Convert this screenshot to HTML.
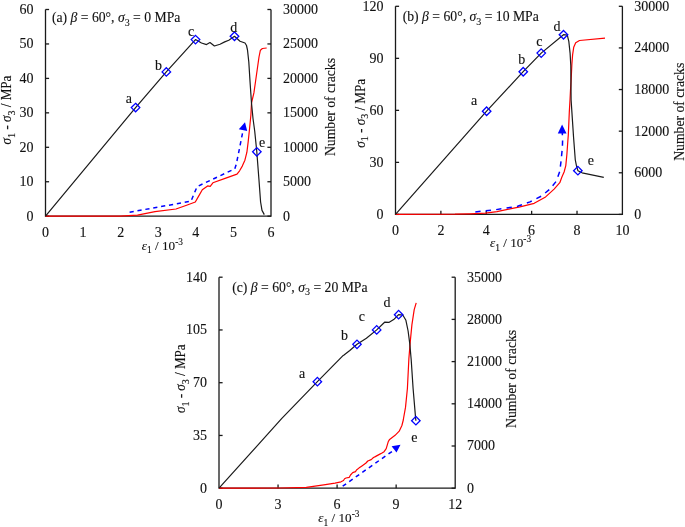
<!DOCTYPE html>
<html><head><meta charset="utf-8"><style>
html,body{margin:0;padding:0;background:#fff;}
svg{display:block;will-change:transform;}
text{font-family:"Liberation Serif",serif;font-size:14px;fill:#111;stroke:#111;stroke-width:0.12px;}
.ax{fill:none;stroke:#1a1a1a;stroke-width:1.3;}
.bk{fill:none;stroke:#1a1a1a;stroke-width:1.2;stroke-linejoin:round;}
.rd{fill:none;stroke:#ff0000;stroke-width:1.2;stroke-linejoin:round;}
.bl{fill:none;stroke:#0000ff;stroke-width:1.5;}
.ar{fill:#0000ff;stroke:none;}
.mk{fill:none;stroke:#0000ff;stroke-width:1.3;}
</style></head><body>
<svg width="685" height="527" viewBox="0 0 685 527">
<path d="M45.5,9.5 V216.2 H271 V9.5" class="ax"/>
<path d="M45.5,216.20 h3.6" class="ax"/>
<text x="33.6" y="220.5" text-anchor="end">0</text>
<path d="M45.5,181.75 h3.6" class="ax"/>
<text x="33.6" y="186.1" text-anchor="end">10</text>
<path d="M45.5,147.30 h3.6" class="ax"/>
<text x="33.6" y="151.6" text-anchor="end">20</text>
<path d="M45.5,112.85 h3.6" class="ax"/>
<text x="33.6" y="117.2" text-anchor="end">30</text>
<path d="M45.5,78.40 h3.6" class="ax"/>
<text x="33.6" y="82.7" text-anchor="end">40</text>
<path d="M45.5,43.95 h3.6" class="ax"/>
<text x="33.6" y="48.2" text-anchor="end">50</text>
<path d="M45.5,9.50 h3.6" class="ax"/>
<text x="33.6" y="13.8" text-anchor="end">60</text>
<path d="M271,216.20 h-3.6" class="ax"/>
<text x="282.9" y="220.5" text-anchor="start">0</text>
<path d="M271,181.75 h-3.6" class="ax"/>
<text x="282.9" y="186.1" text-anchor="start">5000</text>
<path d="M271,147.30 h-3.6" class="ax"/>
<text x="282.9" y="151.6" text-anchor="start">10000</text>
<path d="M271,112.85 h-3.6" class="ax"/>
<text x="282.9" y="117.2" text-anchor="start">15000</text>
<path d="M271,78.40 h-3.6" class="ax"/>
<text x="282.9" y="82.7" text-anchor="start">20000</text>
<path d="M271,43.95 h-3.6" class="ax"/>
<text x="282.9" y="48.2" text-anchor="start">25000</text>
<path d="M271,9.50 h-3.6" class="ax"/>
<text x="282.9" y="13.8" text-anchor="start">30000</text>
<text x="45.5" y="237.2" text-anchor="middle">0</text>
<text x="83.1" y="237.2" text-anchor="middle">1</text>
<text x="120.7" y="237.2" text-anchor="middle">2</text>
<text x="158.2" y="237.2" text-anchor="middle">3</text>
<text x="195.8" y="237.2" text-anchor="middle">4</text>
<text x="233.4" y="237.2" text-anchor="middle">5</text>
<text x="271.0" y="237.2" text-anchor="middle">6</text>
<polyline points="45.5,216.2 120.0,216.2 137.5,215.2 155.0,211.7 176.0,209.0 186.6,205.2 195.3,202.0 198.8,195.9 202.3,189.8 207.6,185.9 210.2,186.3 212.9,182.8 225.1,178.4 237.0,174.1 239.6,170.8 242.3,166.1 244.9,160.2 246.9,152.2 248.2,141.6 249.6,128.3 250.9,115.0 251.5,103.0 253.9,92.9 255.6,81.0 257.3,69.0 259.0,57.0 260.4,50.2 262.4,48.5 266.7,48.0" class="rd"/>
<polyline points="129.6,212.2 191.0,201.2 197.1,186.6 234.8,168.8 236.3,164.1 239.0,150.9 242.3,134.3 243.0,130.0" class="bl" stroke-dasharray="4.2,3.8"/>
<polygon points="245.0,122.3 238.8,129.2 247.2,131.0" class="ar"/>
<polyline points="45.5,216.2 135.6,107.6 166.3,71.9 195.5,39.6 201.5,43.0 206.5,44.6 210.0,42.5 214.4,46.0 220.0,44.3 224.7,41.9 228.8,40.2 234.5,36.3 240.0,41.2 245.0,43.0 246.5,45.5 247.5,50.0 248.8,62.0 250.1,82.7 251.5,103.0 253.0,118.5 254.7,131.0 256.8,151.8 258.9,179.0 260.6,202.0 262.0,210.4 264.3,214.6" class="bk"/>
<path d="M135.6,103.3 L139.8,107.6 L135.6,111.8 L131.3,107.6 Z" class="mk"/>
<path d="M166.3,67.7 L170.6,71.9 L166.3,76.2 L162.1,71.9 Z" class="mk"/>
<path d="M195.5,35.4 L199.8,39.6 L195.5,43.9 L191.2,39.6 Z" class="mk"/>
<path d="M234.5,32.0 L238.8,36.3 L234.5,40.5 L230.2,36.3 Z" class="mk"/>
<path d="M256.8,147.6 L261.1,151.8 L256.8,156.1 L252.6,151.8 Z" class="mk"/>
<text x="128.8" y="103.1" text-anchor="middle">a</text>
<text x="158.6" y="69.8" text-anchor="middle">b</text>
<text x="191.2" y="36.4" text-anchor="middle">c</text>
<text x="233.8" y="32.4" text-anchor="middle">d</text>
<text x="262.1" y="147.1" text-anchor="middle">e</text>
<text x="51.9" y="22.4" style="font-size:13.7px">(a) <tspan font-style="italic">β</tspan> = 60°, <tspan font-style="italic">σ</tspan><tspan font-size="10" dy="3.3">3</tspan><tspan dy="-3.3"> = 0 MPa</tspan></text>
<text transform="translate(11,110) rotate(-90) scale(1,1.1)" text-anchor="middle" style="font-size:13.1px"><tspan font-style="italic">σ</tspan><tspan font-size="10" dy="3.3">1</tspan><tspan dy="-3.3"> - </tspan><tspan font-style="italic">σ</tspan><tspan font-size="10" dy="3.3">3</tspan><tspan dy="-3.3"> / MPa</tspan></text>
<text transform="translate(334.9,107) rotate(-90) scale(1,1.08)" text-anchor="middle" style="font-size:13.7px">Number of cracks</text>
<text x="162.4" y="249.8" text-anchor="middle" style="font-size:13.2px"><tspan font-style="italic">ε</tspan><tspan font-size="9.5" dy="3.3">1</tspan><tspan dy="-3.3"> / 10</tspan><tspan font-size="9.3" dy="-5.2">-3</tspan></text>
<path d="M395.5,6.3 V214.4 H622.4 V6.3" class="ax"/>
<path d="M395.5,214.40 h3.6" class="ax"/>
<text x="383.6" y="218.7" text-anchor="end">0</text>
<path d="M395.5,162.38 h3.6" class="ax"/>
<text x="383.6" y="166.7" text-anchor="end">30</text>
<path d="M395.5,110.35 h3.6" class="ax"/>
<text x="383.6" y="114.7" text-anchor="end">60</text>
<path d="M395.5,58.33 h3.6" class="ax"/>
<text x="383.6" y="62.6" text-anchor="end">90</text>
<path d="M395.5,6.30 h3.6" class="ax"/>
<text x="383.6" y="10.6" text-anchor="end">120</text>
<path d="M622.4,214.40 h-3.6" class="ax"/>
<text x="634.3" y="218.7" text-anchor="start">0</text>
<path d="M622.4,172.78 h-3.6" class="ax"/>
<text x="634.3" y="177.1" text-anchor="start">6000</text>
<path d="M622.4,131.16 h-3.6" class="ax"/>
<text x="634.3" y="135.5" text-anchor="start">12000</text>
<path d="M622.4,89.54 h-3.6" class="ax"/>
<text x="634.3" y="93.8" text-anchor="start">18000</text>
<path d="M622.4,47.92 h-3.6" class="ax"/>
<text x="634.3" y="52.2" text-anchor="start">24000</text>
<path d="M622.4,6.30 h-3.6" class="ax"/>
<text x="634.3" y="10.6" text-anchor="start">30000</text>
<text x="395.5" y="235.4" text-anchor="middle">0</text>
<path d="M440.88,214.4 v-3.6" class="ax"/>
<text x="440.9" y="235.4" text-anchor="middle">2</text>
<path d="M486.26,214.4 v-3.6" class="ax"/>
<text x="486.3" y="235.4" text-anchor="middle">4</text>
<path d="M531.64,214.4 v-3.6" class="ax"/>
<text x="531.6" y="235.4" text-anchor="middle">6</text>
<path d="M577.02,214.4 v-3.6" class="ax"/>
<text x="577.0" y="235.4" text-anchor="middle">8</text>
<text x="622.4" y="235.4" text-anchor="middle">10</text>
<polyline points="395.5,214.4 455.0,214.2 470.0,213.8 485.5,213.1 497.0,211.6 510.0,208.9 520.0,206.8 534.2,203.3 545.6,196.9 554.1,189.1 559.8,182.7 561.9,177.0 564.1,172.0 565.8,165.6 566.9,154.2 567.6,144.3 568.3,135.0 569.3,112.1 570.0,100.0 570.5,90.0 571.1,80.7 571.9,64.0 572.6,54.9 573.7,47.3 575.7,42.8 579.5,40.5 605.0,38.2" class="rd"/>
<polyline points="475.3,211.9 495.7,209.7 517.6,206.3 530.0,201.9 541.3,196.2 549.9,189.1 556.3,181.2 559.8,171.3 561.2,159.9 562.4,147.1 562.6,140.0 562.3,133.0" class="bl" stroke-dasharray="5.3,5.2"/>
<polygon points="562.1,124.4 557.8,133.6 566.5,133.6" class="ar"/>
<polyline points="395.5,214.4 486.6,111.2 523.2,71.7 541.2,53.1 563.5,34.7 567.3,35.2 568.8,41.3 570.1,53.4 570.8,65.5 571.1,100.0 571.9,112.1 573.6,137.7 575.3,160.0 576.5,165.9 577.9,170.7 582.1,172.8 603.8,177.4" class="bk"/>
<path d="M486.6,107.0 L490.9,111.2 L486.6,115.5 L482.4,111.2 Z" class="mk"/>
<path d="M523.2,67.5 L527.5,71.7 L523.2,76.0 L519.0,71.7 Z" class="mk"/>
<path d="M541.2,48.9 L545.5,53.1 L541.2,57.4 L537.0,53.1 Z" class="mk"/>
<path d="M563.5,30.5 L567.8,34.7 L563.5,39.0 L559.2,34.7 Z" class="mk"/>
<path d="M577.9,166.4 L582.1,170.7 L577.9,174.9 L573.6,170.7 Z" class="mk"/>
<text x="474.2" y="105.1" text-anchor="middle">a</text>
<text x="521.7" y="63.9" text-anchor="middle">b</text>
<text x="539.3" y="45.9" text-anchor="middle">c</text>
<text x="557.0" y="30.9" text-anchor="middle">d</text>
<text x="590.8" y="165.1" text-anchor="middle">e</text>
<text x="402.7" y="21.3" style="font-size:13.7px">(b) <tspan font-style="italic">β</tspan> = 60°, <tspan font-style="italic">σ</tspan><tspan font-size="10" dy="3.3">3</tspan><tspan dy="-3.3"> = 10 MPa</tspan></text>
<text transform="translate(364.6,113.3) rotate(-90) scale(1,1.1)" text-anchor="middle" style="font-size:13.1px"><tspan font-style="italic">σ</tspan><tspan font-size="10" dy="3.3">1</tspan><tspan dy="-3.3"> - </tspan><tspan font-style="italic">σ</tspan><tspan font-size="10" dy="3.3">3</tspan><tspan dy="-3.3"> / MPa</tspan></text>
<text transform="translate(683.7,111.8) rotate(-90) scale(1,1.08)" text-anchor="middle" style="font-size:13.7px">Number of cracks</text>
<text x="510.5" y="247.2" text-anchor="middle" style="font-size:13.2px"><tspan font-style="italic">ε</tspan><tspan font-size="9.5" dy="3.3">1</tspan><tspan dy="-3.3"> / 10</tspan><tspan font-size="9.3" dy="-5.2">-3</tspan></text>
<path d="M219,277.2 V488.2 H455.2 V277.2" class="ax"/>
<path d="M219,488.20 h3.6" class="ax"/>
<text x="207.1" y="492.5" text-anchor="end">0</text>
<path d="M219,435.45 h3.6" class="ax"/>
<text x="207.1" y="439.8" text-anchor="end">35</text>
<path d="M219,382.70 h3.6" class="ax"/>
<text x="207.1" y="387.0" text-anchor="end">70</text>
<path d="M219,329.95 h3.6" class="ax"/>
<text x="207.1" y="334.2" text-anchor="end">105</text>
<path d="M219,277.20 h3.6" class="ax"/>
<text x="207.1" y="281.5" text-anchor="end">140</text>
<path d="M455.2,488.20 h-3.6" class="ax"/>
<text x="467.1" y="492.5" text-anchor="start">0</text>
<path d="M455.2,446.00 h-3.6" class="ax"/>
<text x="467.1" y="450.3" text-anchor="start">7000</text>
<path d="M455.2,403.80 h-3.6" class="ax"/>
<text x="467.1" y="408.1" text-anchor="start">14000</text>
<path d="M455.2,361.60 h-3.6" class="ax"/>
<text x="467.1" y="365.9" text-anchor="start">21000</text>
<path d="M455.2,319.40 h-3.6" class="ax"/>
<text x="467.1" y="323.7" text-anchor="start">28000</text>
<path d="M455.2,277.20 h-3.6" class="ax"/>
<text x="467.1" y="281.5" text-anchor="start">35000</text>
<text x="219.0" y="509.2" text-anchor="middle">0</text>
<path d="M278.05,488.2 v-3.6" class="ax"/>
<text x="278.1" y="509.2" text-anchor="middle">3</text>
<path d="M337.10,488.2 v-3.6" class="ax"/>
<text x="337.1" y="509.2" text-anchor="middle">6</text>
<path d="M396.15,488.2 v-3.6" class="ax"/>
<text x="396.1" y="509.2" text-anchor="middle">9</text>
<text x="455.2" y="509.2" text-anchor="middle">12</text>
<polyline points="219.0,488.2 280.0,488.0 306.3,487.4 323.8,484.8 335.0,483.1 341.0,481.8 343.5,480.5 344.6,478.7 346.0,478.0 349.3,477.3 350.5,475.0 352.7,472.6 355.5,471.6 356.5,470.0 358.9,468.1 362.3,465.7 366.0,463.0 367.8,461.0 371.2,459.6 373.5,457.5 375.3,456.6 379.4,454.4 382.0,453.0 384.1,451.7 386.2,448.7 388.2,441.8 389.6,439.4 395.1,435.3 399.2,431.2 401.9,425.5 403.3,420.0 403.6,418.0 405.5,407.4 407.4,388.5 408.9,358.3 410.4,340.1 411.9,324.9 414.2,309.7 416.2,302.9" class="rd"/>
<polyline points="342.7,486.2 393.1,450.7" class="bl" stroke-dasharray="4.2,3.8"/>
<polygon points="400.5,444.8 391.6,446.3 396.5,452.6" class="ar"/>
<polyline points="219.0,488.2 281.6,418.7 317.4,381.7 343.0,355.6 343.7,355.3 349.8,350.5 357.0,344.3 366.4,338.3 376.7,329.9 384.6,322.2 389.2,322.3 393.7,319.6 398.6,314.7 402.8,315.0 405.9,320.3 408.1,331.0 409.7,343.1 411.2,359.8 413.1,388.5 415.5,416.9 415.9,420.7" class="bk"/>
<path d="M317.4,377.4 L321.6,381.7 L317.4,385.9 L313.1,381.7 Z" class="mk"/>
<path d="M357.0,340.1 L361.2,344.3 L357.0,348.6 L352.8,344.3 Z" class="mk"/>
<path d="M376.7,325.6 L380.9,329.9 L376.7,334.1 L372.4,329.9 Z" class="mk"/>
<path d="M398.6,310.4 L402.9,314.7 L398.6,318.9 L394.4,314.7 Z" class="mk"/>
<path d="M415.9,416.4 L420.1,420.7 L415.9,424.9 L411.6,420.7 Z" class="mk"/>
<text x="302.0" y="377.5" text-anchor="middle">a</text>
<text x="344.4" y="340.0" text-anchor="middle">b</text>
<text x="361.9" y="321.3" text-anchor="middle">c</text>
<text x="386.9" y="307.1" text-anchor="middle">d</text>
<text x="414.4" y="442.0" text-anchor="middle">e</text>
<text x="232.2" y="292.1" style="font-size:13.7px">(c) <tspan font-style="italic">β</tspan> = 60°, <tspan font-style="italic">σ</tspan><tspan font-size="10" dy="3.3">3</tspan><tspan dy="-3.3"> = 20 MPa</tspan></text>
<text transform="translate(185.4,378.7) rotate(-90) scale(1,1.1)" text-anchor="middle" style="font-size:13.1px"><tspan font-style="italic">σ</tspan><tspan font-size="10" dy="3.3">1</tspan><tspan dy="-3.3"> - </tspan><tspan font-style="italic">σ</tspan><tspan font-size="10" dy="3.3">3</tspan><tspan dy="-3.3"> / MPa</tspan></text>
<text transform="translate(516,378.9) rotate(-90) scale(1,1.08)" text-anchor="middle" style="font-size:13.7px">Number of cracks</text>
<text x="338.9" y="522.4" text-anchor="middle" style="font-size:13.2px"><tspan font-style="italic">ε</tspan><tspan font-size="9.5" dy="3.3">1</tspan><tspan dy="-3.3"> / 10</tspan><tspan font-size="9.3" dy="-5.2">-3</tspan></text>
</svg>
</body></html>
